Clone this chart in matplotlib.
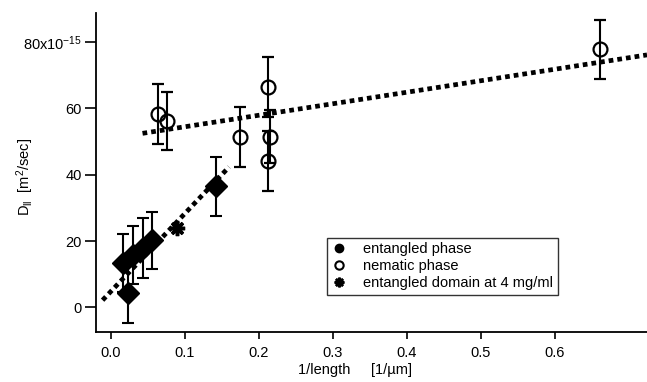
import matplotlib
matplotlib.use("Agg")
import matplotlib.pyplot as plt
from matplotlib.lines import Line2D
import numpy as np

plt.rcParams['font.family'] = ['Liberation Sans', 'DejaVu Sans']
plt.rcParams['mathtext.fontset'] = 'custom'
plt.rcParams['mathtext.rm'] = 'Liberation Sans'
plt.rcParams['mathtext.it'] = 'Liberation Sans'

# entangled phase (filled diamonds)
ent_x = [0.0166, 0.023, 0.030, 0.0436, 0.0558, 0.143]
ent_y = [13.3, 4.2, 15.8, 17.8, 20.2, 36.5]
ent_err = [8.7, 8.8, 8.8, 9.0, 8.7, 8.8]

# nematic phase (open circles)
nem_x = [0.0643, 0.0765, 0.175, 0.212, 0.216, 0.212, 0.662]
nem_y = [58.3, 56.3, 51.3, 66.5, 51.5, 44.2, 77.8]
nem_err = [9.0, 8.8, 9.0, 9.0, 8.0, 9.0, 9.0]

# entangled domain at 4 mg/ml
dom_x = [0.089]
dom_y = [23.8]

# linear fits (intercept, slope, x-range)
ent_fit = (4.74, 235.0, (-0.011, 0.160))
nem_fit = (51.0, 34.7, (0.043, 0.725))

xticks = [0.0, 0.1, 0.2, 0.3, 0.4, 0.5, 0.6]
yticks = [0, 20, 40, 60, 80]
ytick_labels = ['0', '20', '40', '60', r'80x10$^{\mathregular{-15}}$']

fig = plt.figure(figsize=(6.47, 3.82), dpi=100)
ax = fig.add_axes([96/647, 50/382, 1 - 96/647, (332-13)/382])

# fit lines
for (b, m, (x0, x1)) in (ent_fit, nem_fit):
    xs = np.array([x0, x1])
    ax.plot(xs, b + m*xs, color='black', lw=3.4, dashes=(1.0, 0.85),
            solid_capstyle='butt', dash_capstyle='butt', zorder=2)

ax.errorbar(ent_x, ent_y, yerr=ent_err, fmt='D', color='black', ms=11,
            mfc='black', mec='black', ecolor='black', elinewidth=1.5,
            capsize=4.5, capthick=1.5, zorder=3)
ax.errorbar(nem_x, nem_y, yerr=nem_err, fmt='o', color='black', ms=10,
            mfc='none', mec='black', mew=1.6, ecolor='black', elinewidth=1.5,
            capsize=4.5, capthick=1.5, zorder=3)
ax.plot(dom_x, dom_y, linestyle='none', marker=(8, 2, 0), ms=11, mew=2.5,
        color='black', zorder=4)

ax.set_xlim(-0.0199, 0.725)
ax.set_ylim(-7.45, 88.8)
ax.spines['top'].set_visible(False)
ax.spines['right'].set_visible(False)
ax.spines['left'].set_linewidth(1.3)
ax.spines['bottom'].set_linewidth(1.3)

ax.set_xticks(xticks)
ax.set_xticklabels([f'{t:.1f}' for t in xticks])
ax.set_yticks(yticks)
ax.set_yticklabels(ytick_labels)
ax.tick_params(axis='y', direction='out', length=8, width=1.2, pad=2, labelsize=10.5)
ax.tick_params(axis='x', direction='out', length=5, width=1.2, pad=5, labelsize=10.5)

fig.text(25/647, 1 - 177/382, r'D$_{\mathregular{ll}}$  [m$^{\mathregular{2}}$/sec]',
         rotation=90, ha='center', va='center', fontsize=10.5)
fig.text(355/647, 1 - 370/382, '1/length     [1/\u00b5m]', ha='center', va='center',
         fontsize=10.5)

handles = [
    Line2D([], [], linestyle='none', marker='o', ms=6, color='black'),
    Line2D([], [], linestyle='none', marker='o', ms=6, mfc='none', mec='black', mew=1.5),
    Line2D([], [], linestyle='none', marker=(8, 2, 0), ms=7, mew=1.8, color='black'),
]
labels = ['entangled phase', 'nematic phase', 'entangled domain at 4 mg/ml']
leg = fig.legend(handles, labels, loc='upper left',
                 bbox_to_anchor=(327/647, 1 - 238/382), frameon=True,
                 fancybox=False, edgecolor='black', fontsize=10.5,
                 handlelength=1.0, handletextpad=1.2, borderpad=0.3,
                 labelspacing=0.2, borderaxespad=0)
leg.get_frame().set_linewidth(1.0)

fig.savefig('out.png', dpi=100)
